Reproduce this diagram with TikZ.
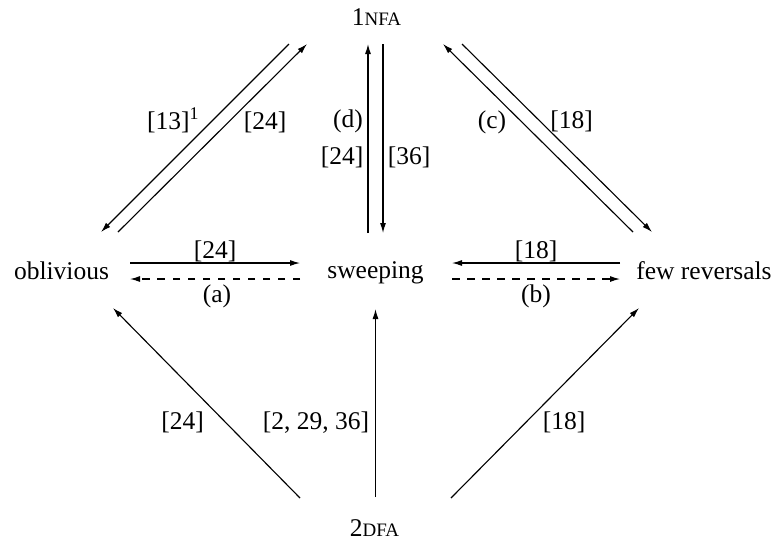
\documentclass[tikz,border=0pt]{standalone}
\usepackage{fontspec}
\setmainfont{Liberation Serif}
\usetikzlibrary{arrows.meta}
\newcommand\mysc[1]{{\fontsize{7.6}{9}\selectfont #1}}
\begin{document}
\begin{tikzpicture}[x=0.4pt,y=-0.4pt,
  every node/.style={font=\fontsize{10.2}{12}\selectfont, anchor=base, inner sep=0pt},
  arr/.style={line width=0.45pt, -{Latex[length=4pt,width=2.4pt]}},
  darr/.style={arr, dash pattern=on 3pt off 3pt}]
\useasboundingbox (0,0) rectangle (780,542);
% main nodes
\node (nfa) at (376.5,25) {1\mysc{NFA}};
\node (dfa) at (374.5,536) {2\mysc{DFA}};
\node (obl) at (61.5,279) {oblivious};
\node (swp) at (375.5,278) {sweeping};
\node (few) at (704,279) {few reversals};
% end points
\coordinate (nA) at (289,44);  \coordinate (oA) at (101,232);
\coordinate (oB) at (118,232); \coordinate (nB) at (307,44);
\coordinate (sC) at (368,233); \coordinate (nC) at (368,44);
\coordinate (nD) at (383,44);  \coordinate (sD) at (383,233);
\coordinate (fE) at (633,232); \coordinate (nE) at (443,44);
\coordinate (nF) at (462,44);  \coordinate (fF) at (652,232);
\coordinate (oG) at (130,263); \coordinate (sG) at (300,263);
\coordinate (sH) at (300,279); \coordinate (oH) at (130,279);
\coordinate (fI) at (620,263); \coordinate (sI) at (452,263);
\coordinate (sJ) at (452,279); \coordinate (fJ) at (620,279);
\coordinate (dK) at (300,498); \coordinate (oK) at (113,308);
\coordinate (dL) at (375.5,497); \coordinate (sL) at (375.5,309);
\coordinate (dM) at (451,498); \coordinate (fM) at (639,308);
% connectors
\draw[arr] (nA) -- (oA);
\draw[arr] (oB) -- (nB);
\draw[arr] (sC) -- (nC);
\draw[arr] (nD) -- (sD);
\draw[arr] (fE) -- (nE);
\draw[arr] (nF) -- (fF);
\draw[arr] (oG) -- (sG);
\draw[darr] (sH) -- (oH);
\draw[arr] (fI) -- (sI);
\draw[darr] (sJ) -- (fJ);
\draw[arr] (dK) -- (oK);
\draw[arr] (dL) -- (sL);
\draw[arr] (dM) -- (fM);
% labels
\node (l13) at (173.5,129) {[13]\textsuperscript{1}};
\node (l24a) at (265,129) {[24]};
\node (lc) at (492,128) {(c)};
\node (l18a) at (571.5,128) {[18]};
\node (ld) at (348,127) {(d)};
\node (l24b) at (342,164) {[24]};
\node (l36) at (409,164) {[36]};
\node (l24h) at (215,258) {[24]};
\node (la) at (217,302) {(a)};
\node (l18h) at (536,258) {[18]};
\node (lb) at (536,302) {(b)};
\node (l24d) at (182.5,429) {[24]};
\node (l2936) at (316,429) {[2, 29, 36]};
\node (l18d) at (564,429) {[18]};
\end{tikzpicture}
\end{document}
